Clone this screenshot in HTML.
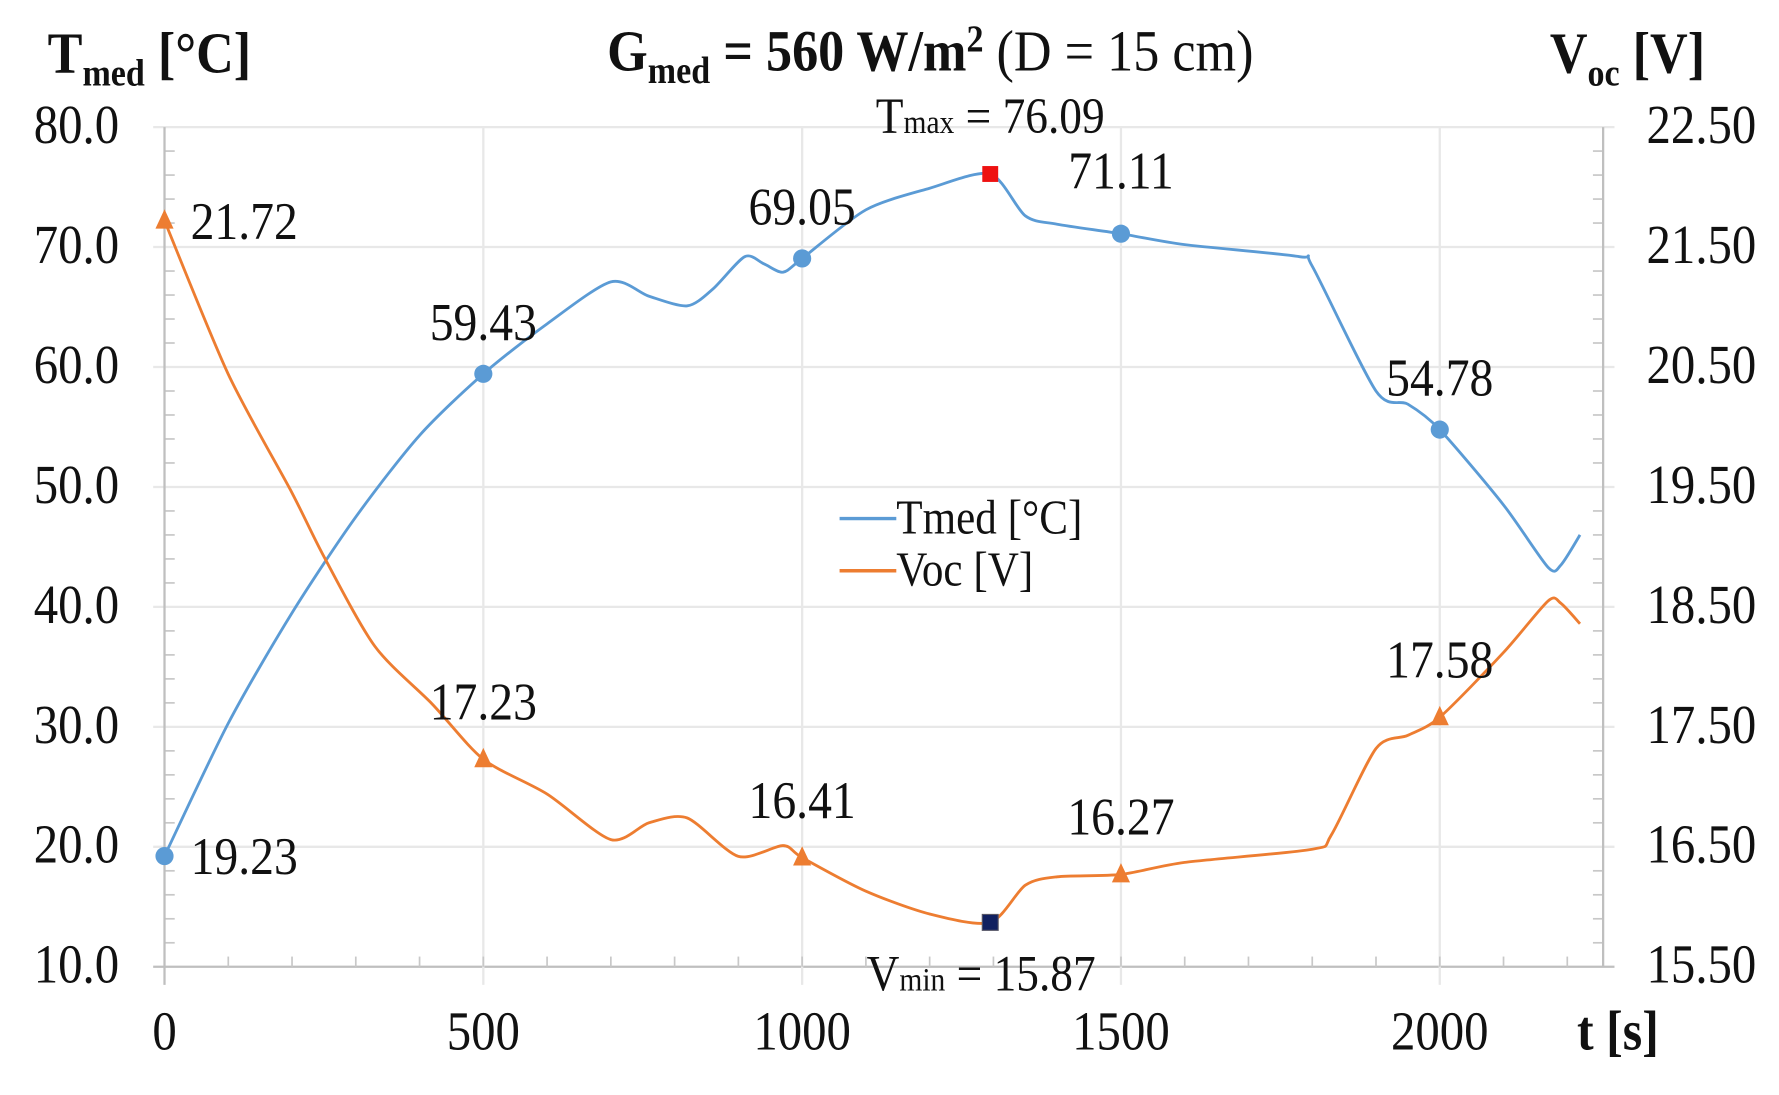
<!DOCTYPE html>
<html><head><meta charset="utf-8"><style>
html,body{margin:0;padding:0;background:#fff;}
svg{display:block;}
text{font-family:"Liberation Serif",serif;fill:#111;}
</style></head><body>
<svg id="chart" width="1779" height="1095" viewBox="0 0 1568 965" preserveAspectRatio="none" xmlns="http://www.w3.org/2000/svg">
<g id="grid"></g>
<g id="axes"></g>
<g id="series"></g>
<g id="labels"></g>
<g transform="translate(820,62) scale(1,1.12)">
<text text-anchor="middle" font-size="46"><tspan font-weight="bold">G<tspan font-size="30" dy="10">med</tspan><tspan dy="-10"> = 560 W/m</tspan><tspan font-size="30" dy="-15">2</tspan></tspan><tspan dy="15"> (D = 15 cm)</tspan></text></g>
<g transform="translate(42,64) scale(1,1.12)">
<text font-size="46" font-weight="bold">T<tspan font-size="30" dy="10">med</tspan><tspan dy="-10"> [°C]</tspan></text></g>
<g transform="translate(1366,64) scale(1,1.12)">
<text font-size="46" font-weight="bold">V<tspan font-size="30" dy="10">oc</tspan><tspan dy="-10"> [V]</tspan></text></g>
<g transform="translate(1390,925) scale(1,1.12)">
<text font-size="44" font-weight="bold">t [s]</text></g>
<g>
<line x1="740" y1="457" x2="790" y2="457" stroke="#5B9BD5" stroke-width="3"/>
<g transform="translate(790,470) scale(1,1.12)"><text font-size="38">Tmed [°C]</text></g>
<line x1="740" y1="503" x2="790" y2="503" stroke="#ED7D31" stroke-width="3"/>
<g transform="translate(790,516) scale(1,1.12)"><text font-size="38">Voc [V]</text></g>
</g>
</svg>
<script>
const tTimes=[0,100,200,300,400,500,600,700,760,820,860,910,940,970,1000,1100,1200,1295,1350,1400,1500,1600,1780,1800,1900,1950,2000,2100,2170,2190,2220];
const tValues=[19.23,30.3,39.5,47.5,54.3,59.43,63.6,67.1,65.9,65.1,66.5,69.2,68.6,67.9,69.05,73.1,74.9,76.09,72.6,71.9,71.11,70.2,69.2,68.4,58.0,56.9,54.78,48.5,43.3,43.5,46.0];
const vTimes=[0,100,200,250,330,420,500,600,700,760,820,900,970,1000,1100,1200,1295,1350,1400,1500,1600,1800,1830,1900,1950,2000,2100,2170,2190,2220];
const vValues=[21.72,20.44,19.45,18.92,18.17,17.69,17.23,16.94,16.56,16.7,16.74,16.42,16.51,16.41,16.13,15.94,15.87,16.18,16.25,16.27,16.37,16.48,16.6,17.32,17.43,17.58,18.12,18.55,18.53,18.36];
const tMarkT=[0,500,1000,1500,2000];
const tMarkV=[19.23,59.43,69.05,71.11,54.78];
const vMarkT=[0,500,1000,1500,2000];
const vMarkV=[21.72,17.23,16.41,16.27,17.58];
const tMaxPoint=[1295,76.09];
const vMinPoint=[1295,15.87];
const xTicks=[0,500,1000,1500,2000];
const leftTicks=["10.0","20.0","30.0","40.0","50.0","60.0","70.0","80.0"];
const rightTicks=["15.50","16.50","17.50","18.50","19.50","20.50","21.50","22.50"];

const NS="http://www.w3.org/2000/svg";
const X0=145,X1=1413,Y0=852,Y1=112;
const xs=t=>X0+t*(1269-145)/2000;
const ys=T=>Y0-(T-10)*(Y0-Y1)/70;
const yv=V=>Y0-(V-15.5)*(Y0-Y1)/7;
function mk(tag,attrs,parent){const e=document.createElementNS(NS,tag);for(const k in attrs)e.setAttribute(k,attrs[k]);parent.appendChild(e);return e;}
const grid=document.getElementById('grid'),axes=document.getElementById('axes'),ser=document.getElementById('series'),lab=document.getElementById('labels');
function txt(x,y,s,anchor,size,parent,name){const g=mk('g',{transform:`translate(${x},${y}) scale(1,1.12)`},parent);


const t=mk('text',{'text-anchor':anchor,'font-size':size},g);t.textContent=s;return t;}
for(let i=0;i<leftTicks.length;i++){const v=10+i*10,y=ys(v);
 const l=mk('line',{x1:X0-10,x2:X1+10,y1:y,y2:y,stroke:i==0?'#bfbfbf':'#e8e8e8','stroke-width':2},grid);
 
 
 txt(105,y+14,leftTicks[i],'end',43,axes,'left-tick-label');
 txt(1548,y+14,rightTicks[i],'end',43,axes,'right-tick-label');}
for(const t of xTicks){const x=xs(t);if(t>0){const l=mk('line',{x1:x,x2:x,y1:Y1,y2:Y0+16,stroke:'#e8e8e8','stroke-width':2},grid);
 
 }
 txt(x,925,String(t),'middle',43,axes,'x-tick-label');}
for(let t=100;t<=2200;t+=100){const x=xs(t);mk('line',{x1:x,x2:x,y1:Y0-9,y2:Y0,stroke:'#c8c8c8','stroke-width':1.5},axes);}
for(let v=12;v<80;v+=2){if(v%10==0)continue;const y=ys(v);mk('line',{x1:X0,x2:X0+9,y1:y,y2:y,stroke:'#c8c8c8','stroke-width':1.5},axes);mk('line',{x1:X1-9,x2:X1,y1:y,y2:y,stroke:'#c8c8c8','stroke-width':1.5},axes);}
const la=mk('line',{x1:X0,x2:X0,y1:Y1,y2:Y0+16,stroke:'#bfbfbf','stroke-width':2},axes);


const ra=mk('line',{x1:X1,x2:X1,y1:Y1,y2:Y0,stroke:'#bfbfbf','stroke-width':2},axes);


function path(ts,vs,f){const P=ts.map((t,i)=>[xs(t),f(vs[i])]);let d='M'+P[0][0].toFixed(1)+','+P[0][1].toFixed(1);
 for(let i=0;i<P.length-1;i++){const p0=P[Math.max(0,i-1)],p1=P[i],p2=P[i+1],p3=P[Math.min(P.length-1,i+2)];const k=1/6*0.8;
 d+=` C${(p1[0]+(p2[0]-p0[0])*k).toFixed(1)},${(p1[1]+(p2[1]-p0[1])*k).toFixed(1)} ${(p2[0]-(p3[0]-p1[0])*k).toFixed(1)},${(p2[1]-(p3[1]-p1[1])*k).toFixed(1)} ${p2[0].toFixed(1)},${p2[1].toFixed(1)}`;}
 return d;}
const pt=mk('path',{d:path(tTimes,tValues,ys),fill:'none',stroke:'#5B9BD5','stroke-width':2.5,'stroke-linejoin':'round'},ser);


const pv=mk('path',{d:path(vTimes,vValues,yv),fill:'none',stroke:'#ED7D31','stroke-width':2.5,'stroke-linejoin':'round'},ser);


tMarkT.forEach((t,i)=>{const c=mk('circle',{cx:xs(t),cy:ys(tMarkV[i]),r:8,fill:'#5B9BD5'},ser);
 
 });
vMarkT.forEach((t,i)=>{const x=xs(t),y=yv(vMarkV[i]);const p=mk('polygon',{points:`${x},${y-10} ${x-8},${y+7} ${x+8},${y+7}`,fill:'#ED7D31'},ser);
 
 });
const sq1=mk('rect',{x:xs(tMaxPoint[0])-7,y:ys(tMaxPoint[1])-7,width:14,height:14,fill:'#ee1111'},ser);


const sq2=mk('rect',{x:xs(vMinPoint[0])-7,y:yv(vMinPoint[1])-7,width:14,height:14,fill:'#102060',stroke:'#556',"stroke-width":1},ser);


const tLabOff=[[23,16,'start'],[0,-30,'middle'],[0,-30,'middle'],[0,-40,'middle'],[0,-30,'middle']];
tMarkT.forEach((t,i)=>{const o=tLabOff[i];txt(xs(t)+o[0],ys(tMarkV[i])+o[1],tMarkV[i].toFixed(2),o[2],42,lab,'tmed-value-label');});
const vLabOff=[[23,16,'start'],[0,-35,'middle'],[0,-35,'middle'],[0,-35,'middle'],[0,-35,'middle']];
vMarkT.forEach((t,i)=>{const o=vLabOff[i];txt(xs(t)+o[0],yv(vMarkV[i])+o[1],vMarkV[i].toFixed(2),o[2],42,lab,'voc-value-label');});
const gmx=mk('g',{transform:`translate(${xs(tMaxPoint[0])},${ys(tMaxPoint[1])-36}) scale(1,1.12)`},lab);


mk('text',{'text-anchor':'middle','font-size':40},gmx).innerHTML='T<tspan font-size="26">max</tspan> = '+tMaxPoint[1].toFixed(2);
const gmn=mk('g',{transform:`translate(${xs(vMinPoint[0])-8},${yv(vMinPoint[1])+60}) scale(1,1.12)`},lab);


mk('text',{'text-anchor':'middle','font-size':40},gmn).innerHTML='V<tspan font-size="26">min</tspan> = '+vMinPoint[1].toFixed(2);
</script>
</body></html>
